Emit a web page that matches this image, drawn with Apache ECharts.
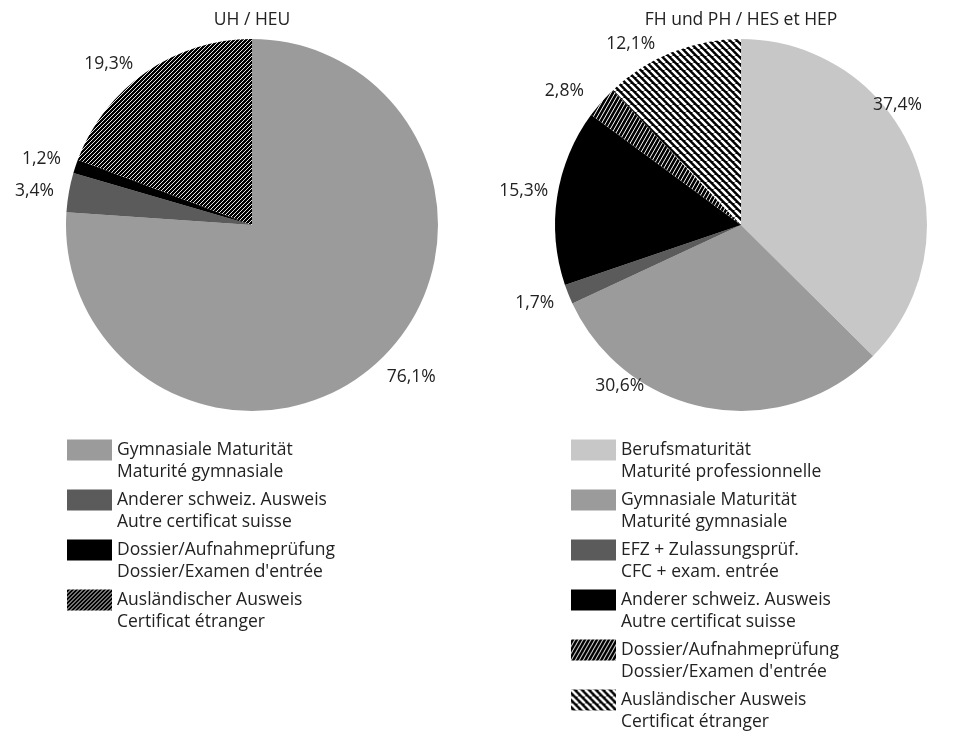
<!DOCTYPE html>
<html><head><meta charset="utf-8">
<script src="https://cdn.jsdelivr.net/npm/echarts@6/dist/echarts.min.js"></script>
<style>html,body{margin:0;padding:0;background:#fff}#c{width:954px;height:734px}</style>
</head><body><div id="c"></div>
<script>
// ---- data ----
const titles = ['UH / HEU', 'FH und PH / HES et HEP'];
const uhCategories = ['Gymnasiale Maturität', 'Anderer schweiz. Ausweis', 'Dossier/Aufnahmeprüfung', 'Ausländischer Ausweis'];
const uhValues = [76.1, 3.4, 1.2, 19.3];
const fhCategories = ['Berufsmaturität', 'Gymnasiale Maturität', 'EFZ + Zulassungsprüf.', 'Anderer schweiz. Ausweis', 'Dossier/Aufnahmeprüfung', 'Ausländischer Ausweis'];
const fhValues = [37.4, 30.6, 1.7, 15.3, 2.8, 12.1];
const frenchNames = {
  'Gymnasiale Maturität': 'Maturité gymnasiale',
  'Anderer schweiz. Ausweis': 'Autre certificat suisse',
  'Dossier/Aufnahmeprüfung': "Dossier/Examen d'entrée",
  'Ausländischer Ausweis': 'Certificat étranger',
  'Berufsmaturität': 'Maturité professionnelle',
  'EFZ + Zulassungsprüf.': 'CFC + exam. entrée'
};

// ---- styles ----
const FONT = '"Open Sans", "Noto Sans", sans-serif';
const FS = 17.5;
const TXT = '#222222';
function hatch(w, h, lineW, dir) {
  const c = document.createElement('canvas');
  c.width = w; c.height = h;
  const g = c.getContext('2d');
  g.fillStyle = '#000'; g.fillRect(0, 0, w, h);
  g.strokeStyle = '#fff'; g.lineWidth = lineW;
  g.beginPath();
  for (let k = -1; k <= 1; k++) {
    if (dir === '/') { g.moveTo(k * w, h); g.lineTo(k * w + w, 0); }
    else { g.moveTo(k * w, 0); g.lineTo(k * w + w, h); }
  }
  g.stroke();
  return { image: c, repeat: 'repeat' };
}
const GRAY = '#9a9b9a', DARK = '#5b5b5b', LIGHT = '#c6c7c6', BLACK = '#000000';
const hatchA = hatch(4, 4, 0.9, '/');
const hatchB = hatch(4, 7, 1.0, '/');
const hatchC = hatch(7, 7, 2.6, '\\');
const uhColors = [GRAY, DARK, BLACK, hatchA];
const fhColors = [LIGHT, GRAY, DARK, BLACK, hatchB, hatchC];
const uhNudge = { 0: [-4, 9], 2: [0, -4], 3: [-2, 0] };
const fhNudge = { 0: [-54, -45], 1: [-58, -32], 2: [0, 5], 3: [6, -4], 4: [-5, -4], 5: [-8, 1] };

const fmt = p => p.value.toFixed(1).replace('.', ',') + '%';

function pie(center, cats, vals, colors, nudge) {
  return {
    type: 'pie', center: center, radius: 186, startAngle: 90, clockwise: true,
    avoidLabelOverlap: false, silent: true,
    label: { show: true, position: 'outside', formatter: fmt, fontFamily: FONT, fontSize: FS, color: TXT, overflow: 'none' },
    labelLine: { show: false, length: 10, length2: 0 },
    itemStyle: { borderWidth: 0 },
    emphasis: { disabled: true },
    labelLayout: function (p) { const n = nudge[p.dataIndex]; return n ? { dx: n[0], dy: n[1] } : {}; },
    data: cats.map((n, i) => ({ name: n, value: vals[i], itemStyle: { color: colors[i] } }))
  };
}

function legend(left, cats, colors) {
  return {
    left: left, top: 417, orient: 'vertical', padding: 0,
    itemWidth: 45, itemHeight: 21, itemGap: -16, icon: 'rect', selectedMode: false,
    data: cats.map((n, i) => ({ name: n, itemStyle: { color: colors[i] } })),
    formatter: n => '\n' + n + '\n' + frenchNames[n],
    textStyle: { fontFamily: FONT, fontSize: FS, color: TXT, lineHeight: 22 }
  };
}

const chart = echarts.init(document.getElementById('c'));
chart.setOption({
  animation: false,
  backgroundColor: '#ffffff',
  title: [
    { text: titles[0], left: 252, top: 11, textAlign: 'center', padding: 0, textStyle: { fontFamily: FONT, fontSize: FS, fontWeight: 'normal', color: TXT } },
    { text: titles[1], left: 741, top: 11, textAlign: 'center', padding: 0, textStyle: { fontFamily: FONT, fontSize: FS, fontWeight: 'normal', color: TXT } }
  ],
  legend: [legend(67, uhCategories, uhColors), legend(571, fhCategories, fhColors)],
  series: [
    pie([252, 225], uhCategories, uhValues, uhColors, uhNudge),
    pie([741, 225], fhCategories, fhValues, fhColors, fhNudge)
  ]
});
</script></body></html>
